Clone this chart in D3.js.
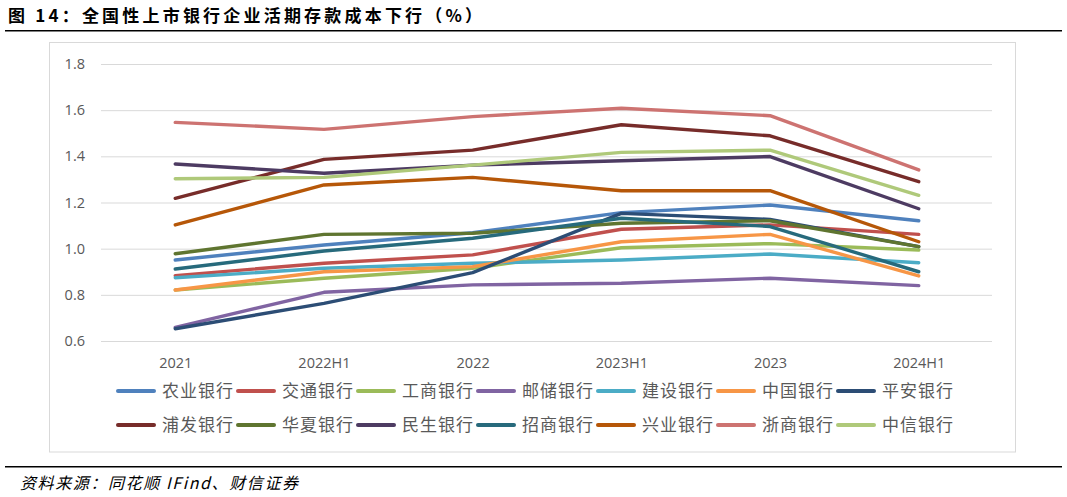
<!DOCTYPE html>
<html>
<head>
<meta charset="utf-8">
<script src="https://cdn.jsdelivr.net/npm/d3@7"></script>
<style>
  html, body { margin: 0; padding: 0; background: #fff; }
  svg { display: block; }
</style>
</head>
<body>
<svg id="chart" width="1067" height="497"></svg>
<script>
const categories = ["2021", "2022H1", "2022", "2023H1", "2023", "2024H1"];
const seriesNames = ["农业银行", "交通银行", "工商银行", "邮储银行", "建设银行", "中国银行", "平安银行",
                     "浦发银行", "华夏银行", "民生银行", "招商银行", "兴业银行", "浙商银行", "中信银行"];
const abc   = [0.951, 1.016, 1.069, 1.156, 1.189, 1.121];
const bocom = [0.883, 0.937, 0.973, 1.084, 1.103, 1.062];
const icbc  = [0.821, 0.872, 0.915, 1.004, 1.022, 0.994];
const psbc  = [0.659, 0.811, 0.843, 0.850, 0.872, 0.840];
const ccb   = [0.874, 0.915, 0.937, 0.951, 0.977, 0.939];
const boc   = [0.821, 0.900, 0.922, 1.030, 1.062, 0.882];
const pingan= [0.653, 0.763, 0.896, 1.153, 1.127, 1.009];
const spdb  = [1.218, 1.387, 1.427, 1.537, 1.489, 1.290];
const hxb   = [0.978, 1.062, 1.067, 1.110, 1.121, 1.009];
const cmbc  = [1.367, 1.327, 1.362, 1.381, 1.399, 1.173];
const cmb   = [0.912, 0.990, 1.045, 1.132, 1.096, 0.900];
const cib   = [1.103, 1.276, 1.309, 1.251, 1.251, 1.030];
const czb   = [1.547, 1.517, 1.572, 1.608, 1.576, 1.341];
const citic = [1.303, 1.309, 1.362, 1.417, 1.427, 1.231];
const seriesValues = [abc, bocom, icbc, psbc, ccb, boc, pingan, spdb, hxb, cmbc, cmb, cib, czb, citic];
const colors = ["#4F81BD", "#C0504D", "#9BBB59", "#8064A2", "#4BACC6", "#F79646", "#2C4D75",
                "#772C2A", "#5F7530", "#4D3B62", "#276A7C", "#B65708", "#CD7371", "#AFC97A"];
const yTicks = [0.6, 0.8, 1.0, 1.2, 1.4, 1.6, 1.8];
const titleText = "图 14：全国性上市银行企业活期存款成本下行（%）";
const sourceText = "资料来源：同花顺 IFind、财信证券";

const svg = d3.select("#chart");

// Title & rules
svg.append("text").attr("x", 8).attr("y", 22)
  .attr("font-family", "'Noto Sans CJK SC', sans-serif").attr("font-weight", "bold")
  .attr("font-size", 17).attr("letter-spacing", 3.2).attr("fill", "#000").text(titleText);
svg.append("line").attr("x1", 5).attr("x2", 1062).attr("y1", 30.8).attr("y2", 30.8)
  .attr("stroke", "#000").attr("stroke-width", 1.6);
svg.append("line").attr("x1", 5).attr("x2", 1062).attr("y1", 466.8).attr("y2", 466.8)
  .attr("stroke", "#000").attr("stroke-width", 1.6);
svg.append("text").attr("x", 20).attr("y", 489)
  .attr("font-family", "'Noto Sans CJK SC', sans-serif").attr("font-style", "italic")
  .attr("font-size", 16).attr("letter-spacing", 1.6).attr("fill", "#000").text(sourceText);

// Chart border
svg.append("rect").attr("x", 49.5).attr("y", 42.5).attr("width", 966).attr("height", 409.5)
  .attr("fill", "none").attr("stroke", "#D9D9D9").attr("stroke-width", 1);

const x = d3.scalePoint().domain(categories).range([175.25, 918.75]);
const y = d3.scaleLinear().domain([0.6, 1.8]).range([341, 64]);

// Y grid + labels
const yAxis = d3.axisLeft(y).tickValues(yTicks).tickFormat(d3.format(".1f"))
  .tickSize(-(992 - 101)).tickPadding(16);
const gy = svg.append("g").attr("transform", "translate(101,0)").call(yAxis);
gy.select(".domain").remove();
gy.selectAll(".tick line").attr("stroke", "#D9D9D9").attr("stroke-width", 1);
gy.selectAll(".tick text").attr("font-family", "'Open Sans', 'Liberation Sans', sans-serif")
  .attr("font-size", 14.5).attr("fill", "#595959");

// X labels
const xAxis = d3.axisBottom(x).tickSize(0).tickPadding(17);
const gx = svg.append("g").attr("transform", "translate(0,341)").call(xAxis);
gx.select(".domain").remove();
gx.selectAll(".tick text").attr("font-family", "'Open Sans', 'Liberation Sans', sans-serif")
  .attr("font-size", 14.5).attr("fill", "#595959");

// Lines
const line = d3.line().x((d, i) => x(categories[i])).y(d => y(d));
svg.append("g").selectAll("path").data(seriesValues).join("path")
  .attr("d", d => line(d))
  .attr("fill", "none")
  .attr("stroke", (d, i) => colors[i])
  .attr("stroke-width", 3.4)
  .attr("stroke-linecap", "round")
  .attr("stroke-linejoin", "round");

// Legend
const legend = svg.append("g");
seriesNames.forEach((name, i) => {
  const row = Math.floor(i / 7), col = i % 7;
  const lx = 117 + col * 120, ly = 391 + row * 34;
  legend.append("line").attr("x1", lx + 1).attr("x2", lx + 37).attr("y1", ly).attr("y2", ly)
    .attr("stroke", colors[i]).attr("stroke-width", 4).attr("stroke-linecap", "round");
  legend.append("text").attr("x", lx + 45).attr("y", ly).attr("dy", "0.36em")
    .attr("font-family", "'Noto Sans CJK SC', sans-serif")
    .attr("font-size", 17).attr("letter-spacing", 1).attr("fill", "#595959").text(name);
});
</script>
</body>
</html>
